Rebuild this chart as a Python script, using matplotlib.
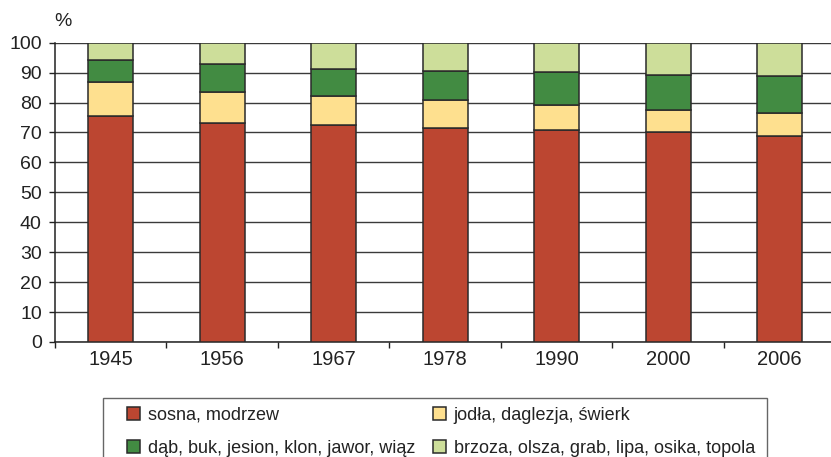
import matplotlib
matplotlib.use("Agg")
import matplotlib.pyplot as plt
from matplotlib.patches import Rectangle
import numpy as np

plt.rcParams['font.family'] = ['Liberation Sans', 'DejaVu Sans']

years = ['1945', '1956', '1967', '1978', '1990', '2000', '2006']
series_names = ['sosna, modrzew', 'jodła, daglezja, świerk',
                'dąb, buk, jesion, klon, jawor, wiąz',
                'brzoza, olsza, grab, lipa, osika, topola']
sosna = [75.6, 73.1, 72.5, 71.4, 70.8, 70.1, 68.9]
jodla = [11.3, 10.5, 9.6, 9.6, 8.5, 7.5, 7.5]
dab = [7.4, 9.4, 9.1, 9.5, 10.8, 11.7, 12.5]
brzoza = [5.7, 7.0, 8.8, 9.5, 9.9, 10.7, 11.1]
colors = ['#BC4631', '#FEE08F', '#428B42', '#CDDE9A']

W, H = 831, 457
fig = plt.figure(figsize=(W / 100, H / 100), dpi=100)
ax = fig.add_axes([55 / W, 115 / H, 780.5 / W, 299.3 / H])

x = np.arange(len(years))
bottom = np.zeros(len(years))
handles = []
for vals, col, name in zip([sosna, jodla, dab, brzoza], colors, series_names):
    b = ax.bar(x, vals, width=0.40, bottom=bottom, color=col,
               edgecolor='#2a2a2a', linewidth=1.1, zorder=3, label=name)
    handles.append(b)
    bottom += np.array(vals)

ax.set_xlim(-0.5, len(years) - 0.5)
ax.set_ylim(0, 100)
ax.set_yticks(np.arange(0, 101, 10))
ax.yaxis.grid(True, color='#3a3a3a', linewidth=1.0, zorder=0)
ax.set_axisbelow(True)
ax.set_xticks(x)
ax.set_xticklabels(years)
ax.set_xticks(np.arange(-0.5, len(years), 1.0), minor=True)
ax.tick_params(axis='x', which='major', length=0, pad=6, labelsize=14.5, colors='#222222')
ax.tick_params(axis='x', which='minor', length=4, width=1, direction='out', color='#222222')
ax.tick_params(axis='y', length=4, width=1, pad=5.5, labelsize=14, colors='#222222')
for s in ['top', 'right']:
    ax.spines[s].set_visible(False)
for s in ['left', 'bottom']:
    ax.spines[s].set_color('#222222')
    ax.spines[s].set_linewidth(1.1)

fig.text(63 / W, 1 - 21 / H, '%', ha='center', va='center', fontsize=14, color='#222222')

# legend box
fig.patches.append(Rectangle((103 / W, -10 / H), 664 / W, (H - 398 + 10) / H,
                             transform=fig.transFigure, facecolor='white',
                             edgecolor='#666666', linewidth=1.0))
order = [handles[0], handles[2], handles[1], handles[3]]
labels = [series_names[0], series_names[2], series_names[1], series_names[3]]
fig.legend(order, labels, ncol=2, loc='upper left',
           bbox_to_anchor=(127 / W, 1 - 407 / H), frameon=False,
           fontsize=13, handlelength=0.72, handleheight=0.72,
           handletextpad=0.45, columnspacing=0.95, labelspacing=0.87,
           borderpad=0, borderaxespad=0, labelcolor='#222222')

fig.savefig('out.png', dpi=100)
